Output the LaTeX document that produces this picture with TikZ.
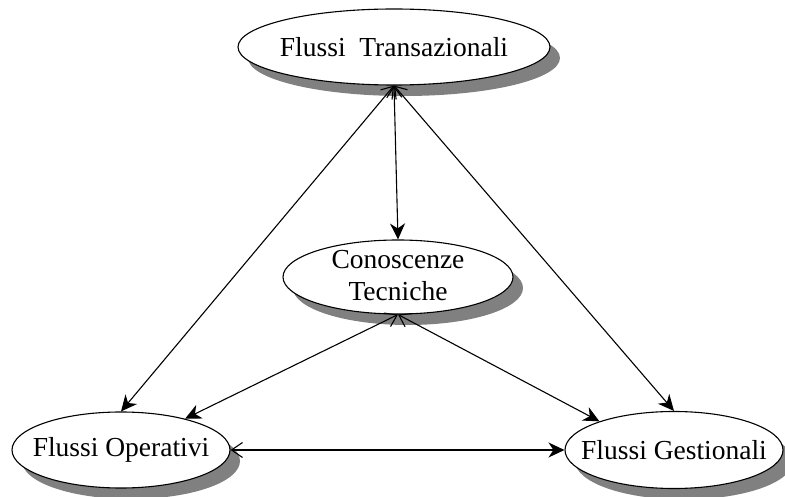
\documentclass[tikz,border=0pt]{standalone}
\usepackage{fontspec}
\setmainfont{Liberation Serif}
\usetikzlibrary{arrows.meta,shapes.geometric,shadows}
\begin{document}
\begin{tikzpicture}[x=1pt,y=-1pt,
  bubble/.style={ellipse, draw, line width=1.1pt, fill=white, inner sep=0pt,
    drop shadow={shadow xshift=10pt, shadow yshift=-11pt, fill=black!50, opacity=1}},
  caption/.style={align=center, inner sep=0pt, font=\fontsize{27.5}{32}\selectfont},
  link/.style={line width=1.1pt,
    {Straight Barb[length=11pt,width=15pt,line width=1.1pt]}-{Stealth[length=16pt,width=15pt,inset=5pt]}}]
\useasboundingbox (0,0) rectangle (785,497);

\node[bubble, minimum width=312, minimum height=76] (ft) at (394,47) {};
\node[bubble, minimum width=230, minimum height=74] (ct) at (398,277) {};
\node[bubble, minimum width=218, minimum height=76] (fo) at (121,450) {};
\node[bubble, minimum width=218, minimum height=77] (fg) at (674,450) {};

\node[caption] (ftt) at (ft.center) {Flussi\ \ Transazionali};
\node[caption] (ctt) at ([yshift=1pt]ct.center) {Conoscenze\\Tecniche};
\node[caption] (fot) at (fo.center) {Flussi Operativi};
\node[caption] (fgt) at (fg.center) {Flussi Gestionali};

\draw[link] (ft.south) -- (ct.north);
\draw[link] (ft.south) -- (fo.north);
\draw[link] (ft.south) -- (fg.north);
\draw[link] (ct.south) -- (fo.26);
\draw[link] (ct.south) -- (fg.159);
\draw[link] (fo.east) -- (fg.west);
\end{tikzpicture}
\end{document}
